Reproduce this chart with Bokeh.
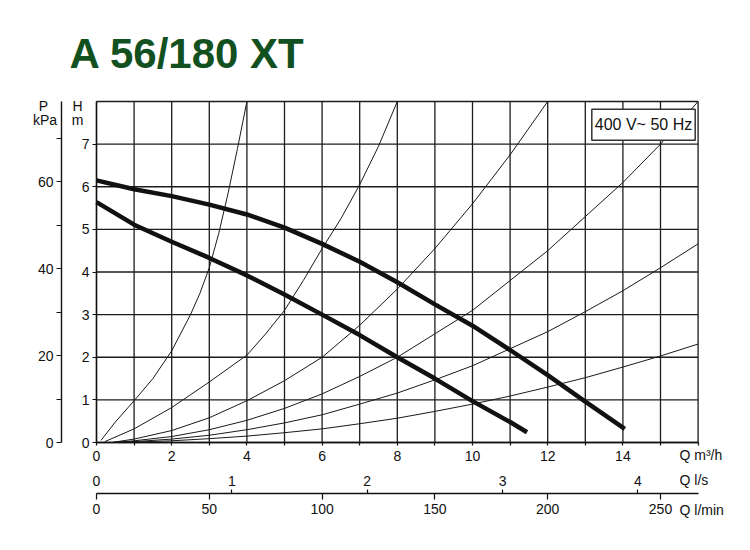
from bokeh.plotting import figure
from bokeh.models import Range1d, LinearAxis, FixedTicker, Label
from bokeh.embed import file_html
from bokeh.resources import INLINE

# ---------------- data ----------------
Q_MAX = 16          # m3/h, right edge of chart
H_MAX = 8           # m, top edge of chart

# pump curves (thick)
Q_UPPER = [0, 1, 2, 3, 4, 5, 6, 7, 8, 9, 10, 11, 12, 13, 14.05]
H_UPPER = [6.15, 5.94, 5.78, 5.58, 5.35, 5.04, 4.66, 4.24, 3.76, 3.24, 2.74, 2.17, 1.58, 0.96, 0.32]
Q_LOWER = [0, 1, 2, 3, 4, 5, 6, 7, 8, 9, 10, 11, 11.45]
H_LOWER = [5.64, 5.11, 4.71, 4.33, 3.92, 3.47, 3.0, 2.52, 2.0, 1.5, 0.97, 0.48, 0.24]

# system (resistance) curves (thin)
Q_SYS_A = [0.12, 0.5, 1.0, 1.5, 2.0, 2.5, 2.75, 3.0, 3.25, 3.5, 3.75, 4.0]
H_SYS_A = [0.05, 0.48, 0.98, 1.5, 2.15, 3.0, 3.5, 4.1, 4.9, 5.85, 6.9, 8.0]
Q_SYS_B = [0.22, 1, 2, 3, 4, 4.5, 5, 5.5, 6, 6.5, 7, 7.5, 8.0]
H_SYS_B = [0.02, 0.32, 0.82, 1.42, 2.05, 2.55, 3.1, 3.8, 4.55, 5.25, 6.05, 6.95, 8.0]
Q_SYS_C = [0.4, 1, 2, 3, 4, 5, 6, 7, 8, 9, 10, 11, 12]
H_SYS_C = [0.0, 0.08, 0.28, 0.58, 0.98, 1.45, 2.0, 2.75, 3.6, 4.55, 5.6, 6.75, 8.0]
Q_SYS_D = [0.45, 1, 2, 3, 4, 5, 6, 7, 8, 9, 10, 11, 12, 13, 14, 15, 16]
H_SYS_D = [0.0, 0.04, 0.14, 0.3, 0.52, 0.8, 1.14, 1.55, 2.0, 2.55, 3.1, 3.8, 4.5, 5.3, 6.1, 7.0, 8.0]
Q_SYS_E = [0.45, 1, 2, 3, 4, 5, 6, 7, 8, 9, 10, 11, 12, 13, 14, 15, 16]
H_SYS_E = [0.0, 0.02, 0.08, 0.17, 0.3, 0.46, 0.65, 0.9, 1.16, 1.47, 1.8, 2.2, 2.6, 3.07, 3.56, 4.1, 4.66]
Q_SYS_F = [0.45, 1, 2, 3, 4, 5, 6, 7, 8, 9, 10, 11, 12, 13, 14, 15, 16]
H_SYS_F = [0.0, 0.01, 0.04, 0.09, 0.15, 0.23, 0.32, 0.44, 0.57, 0.73, 0.9, 1.09, 1.3, 1.52, 1.77, 2.03, 2.31]

# ticks / grid
X_GRID = list(range(0, 17))
Y_GRID = list(range(0, 9))
QM3H_TICKS = [0, 2, 4, 6, 8, 10, 12, 14]
QM3H_MINOR = [1, 3, 5, 7, 9, 11, 13, 15, 16]
H_TICKS = [0, 1, 2, 3, 4, 5, 6, 7]
KPA_TICKS = [0, 20, 40, 60]
KPA_MINOR = [10, 30, 50, 70]
LS_TICKS = [0, 1, 2, 3, 4]
LS_TICK_MARKS = [1, 2, 3, 4]
LMIN_TICKS = [0, 50, 100, 150, 200, 250]

TITLE = "A 56/180 XT"
BOX_TEXT = "400 V~ 50 Hz"

# unit conversions
KPA_PER_M = 9.81
M3H_PER_LS = 3.6
LMIN_PER_M3H = 1000 / 60

# ---------------- layout / styling ----------------
WC, HC = 746, 540                 # canvas
X0_PX, PX_PER_Q = 96, 37.6        # pixel of Q=0, pixels per m3/h
Y0_PX, PX_PER_H = 442, 42.625     # pixel of H=0, pixels per m
P_AXIS_PX = 61                    # pixel column of the kPa axis
FLOW_AXIS_PX = 493                # pixel row of the l/s | l/min axis

FONT = "Liberation Sans"
INK = "#111111"
GRID = "#1c1c1c"
TITLE_COLOR = "#12501f"

xs, xe = -X0_PX / PX_PER_Q, (WC - X0_PX) / PX_PER_Q
ys, ye = -(HC - Y0_PX) / PX_PER_H, Y0_PX / PX_PER_H

p = figure(width=WC, height=HC,
           x_range=Range1d(xs, xe), y_range=Range1d(ys, ye),
           x_axis_type=None, y_axis_type=None,
           output_backend="svg", toolbar_location=None,
           min_border=0, min_border_left=0, min_border_right=0,
           min_border_top=0, min_border_bottom=0)
p.title.visible = False
p.background_fill_color = "white"
p.border_fill_color = "white"
p.outline_line_color = None

p.extra_y_ranges = {"kpa": Range1d(ys * KPA_PER_M, ye * KPA_PER_M)}
p.extra_x_ranges = {"ls": Range1d(xs / M3H_PER_LS, xe / M3H_PER_LS),
                    "lmin": Range1d(xs * LMIN_PER_M3H, xe * LMIN_PER_M3H)}

# grid (bounded to the chart area)
p.segment(x0=X_GRID, y0=0, x1=X_GRID, y1=H_MAX, line_color=GRID, line_width=1.3)
p.segment(x0=0, y0=Y_GRID, x1=Q_MAX, y1=Y_GRID, line_color=GRID, line_width=1.3)

def style_axis(ax, size="14px"):
    ax.axis_line_color = INK
    ax.axis_line_width = 1.4
    ax.major_tick_line_color = INK
    ax.minor_tick_line_color = INK
    ax.major_tick_line_width = 1.2
    ax.minor_tick_line_width = 1.2
    ax.major_label_text_font = FONT
    ax.major_label_text_font_size = size
    ax.major_label_text_color = "#111111"
    ax.major_tick_in = 0
    ax.minor_tick_in = 0
    ax.minor_tick_out = 0

# H axis (m)
ha = LinearAxis(fixed_location=0, bounds=(0, H_MAX))
style_axis(ha)
ha.ticker = FixedTicker(ticks=H_TICKS)
ha.major_tick_out = 4
ha.major_label_standoff = 3
p.add_layout(ha, "left")

# P axis (kPa)
pa = LinearAxis(y_range_name="kpa", fixed_location=(P_AXIS_PX - X0_PX) / PX_PER_Q,
                bounds=(0, H_MAX * KPA_PER_M))
style_axis(pa)
pa.ticker = FixedTicker(ticks=KPA_TICKS, minor_ticks=KPA_MINOR)
pa.major_tick_out = 5
pa.minor_tick_out = 5
pa.major_label_standoff = 3
p.add_layout(pa, "left")

# Q m3/h axis
xa = LinearAxis(fixed_location=0, bounds=(0, Q_MAX))
style_axis(xa)
xa.ticker = FixedTicker(ticks=QM3H_TICKS, minor_ticks=QM3H_MINOR)
xa.major_tick_out = 3
xa.minor_tick_out = 3
xa.major_label_standoff = 5
p.add_layout(xa, "below")

flow_loc = (Y0_PX - FLOW_AXIS_PX) / PX_PER_H

# Q l/s (labels above the shared line, ticks pointing up)
lsa = LinearAxis(x_range_name="ls", fixed_location=flow_loc, bounds=(0, Q_MAX / M3H_PER_LS))
style_axis(lsa)
lsa.ticker = FixedTicker(ticks=LS_TICKS, minor_ticks=LS_TICK_MARKS)
lsa.axis_line_color = None
lsa.major_tick_line_color = None
lsa.major_tick_out = 4
lsa.minor_tick_out = 4
lsa.major_label_standoff = 4
p.add_layout(lsa, "above")

# Q l/min (shared line, ticks pointing down)
lma = LinearAxis(x_range_name="lmin", fixed_location=flow_loc, bounds=(0, Q_MAX * LMIN_PER_M3H))
style_axis(lma)
lma.ticker = FixedTicker(ticks=LMIN_TICKS)
lma.major_tick_out = 6
lma.major_label_standoff = 4
p.add_layout(lma, "below")

# curves
p.multi_line(xs=[Q_SYS_A, Q_SYS_B, Q_SYS_C, Q_SYS_D, Q_SYS_E, Q_SYS_F],
             ys=[H_SYS_A, H_SYS_B, H_SYS_C, H_SYS_D, H_SYS_E, H_SYS_F],
             line_color="#1a1a1a", line_width=1.0)
p.line(Q_UPPER, H_UPPER, line_color=INK, line_width=4.5)
p.line(Q_LOWER, H_LOWER, line_color=INK, line_width=4.5)

# texts, placed by pixel position on the canvas (x from left, y = visual centre from top)
def lab(text, X, Y, size="14px", align="left", **kw):
    kw.setdefault("text_color", "#111111")
    p.add_layout(Label(x=X, y=HC - Y, x_units="screen", y_units="screen", text=text,
                       text_font=FONT, text_font_size=size, text_align=align,
                       text_baseline="middle", **kw))

lab(TITLE, 69, 52.5, size="42px", text_font_style="bold", text_color=TITLE_COLOR)
lab("P", 43, 105.5, align="center")
lab("kPa", 44.5, 119.5, align="center")
lab("H", 77, 105.5, align="center")
lab("m", 77, 119.5, align="center")
lab("Q m³/h", 679, 454.5)
lab("Q l/s", 679, 479.5)
lab("Q l/min", 679, 509)
lab(BOX_TEXT, 643, 124.2, size="16px", align="center",
    background_fill_color="white",
    border_line_color="#333333", border_line_width=1.5,
    padding=dict(left=3, right=3, top=7, bottom=7))

open("out.html", "w").write(file_html(p, INLINE))
